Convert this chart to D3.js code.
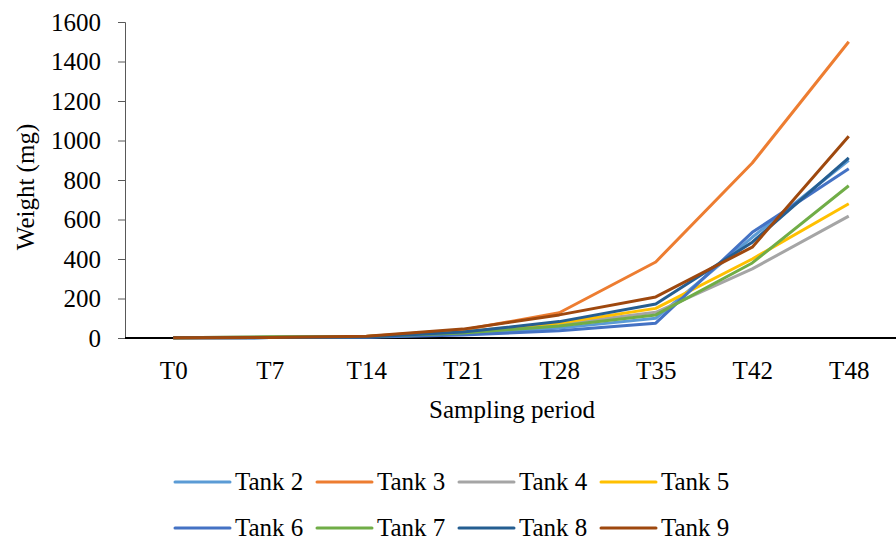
<!DOCTYPE html>
<html>
<head>
<meta charset="utf-8">
<script src="https://cdn.jsdelivr.net/npm/d3@7"></script>
<style>
 body { margin: 0; background: #fff; }
 svg text { font-family: "Liberation Serif", "Times New Roman", serif; fill: #000; }
</style>
</head>
<body>
<div id="chart"></div>
<script>
const periods = ["T0", "T7", "T14", "T21", "T28", "T35", "T42", "T48"];
const tanks = ["Tank 2", "Tank 3", "Tank 4", "Tank 5", "Tank 6", "Tank 7", "Tank 8", "Tank 9"];
const colors = ["#5B9BD5", "#ED7D31", "#A5A5A5", "#FFC000", "#4472C4", "#70AD47", "#255E91", "#9E480E"];
const yTicks = [0, 200, 400, 600, 800, 1000, 1200, 1400, 1600];

const tank2 = [1, 2, 5, 20, 50, 100, 510, 900];
const tank3 = [1, 3, 8, 40, 128, 385, 886, 1500];
const tank4 = [1, 6, 8, 30, 70, 130, 350, 617];
const tank5 = [1, 3, 7, 30, 76, 150, 400, 680];
const tank6 = [1, 2, 4, 15, 37, 75, 535, 857];
const tank7 = [1, 6, 8, 25, 61, 117, 380, 771];
const tank8 = [1, 2, 5, 30, 83, 172, 485, 912];
const tank9 = [1, 3, 9, 45, 117, 208, 460, 1021];
const values = [tank2, tank3, tank4, tank5, tank6, tank7, tank8, tank9];

(function () {
 const width = 896;
 const height = 540;
 const margin = { top: 22, left: 125, right: -1, bottom: 202 };
 const font = '"Liberation Serif", "Times New Roman", serif';

 const svg = d3
  .select("#chart")
  .append("svg")
  .attr("width", width)
  .attr("height", height)
  .attr("font-family", font);

 const xScale = d3
  .scalePoint()
  .domain(periods)
  .range([margin.left, width - margin.right])
  .padding(0.5);
 const yScale = d3
  .scaleLinear()
  .domain([0, 1600])
  .range([height - margin.bottom, margin.top]);

 // y axis
 const yAxis = svg
  .append("g")
  .attr("transform", `translate(${margin.left},0)`)
  .call(
   d3
    .axisLeft(yScale)
    .tickValues(yTicks)
    .tickFormat(d3.format("d"))
    .tickSize(7)
    .tickPadding(17)
  )
  .attr("font-family", font);
 yAxis.select(".domain").attr("stroke", "#595959");
 yAxis.selectAll(".tick line").attr("stroke", "#595959");
 yAxis.selectAll(".tick text").style("font-size", "25px");

 // x axis, no ticks
 const xAxis = svg
  .append("g")
  .attr("transform", `translate(0,${yScale(0)})`)
  .call(d3.axisBottom(xScale).tickSize(0).tickPadding(23))
  .attr("font-family", font);
 xAxis.select(".domain").remove();
 xAxis
  .append("line")
  .attr("x1", margin.left)
  .attr("x2", width)
  .attr("stroke", "#000")
  .attr("stroke-width", 2);
 xAxis.selectAll(".tick text").style("font-size", "25px");

 // axis titles
 svg
  .append("text")
  .attr("transform", `translate(28,${(margin.top + yScale(0)) / 2 + 7}) rotate(-90)`)
  .attr("text-anchor", "middle")
  .attr("dominant-baseline", "middle")
  .style("font-size", "25px")
  .text("Weight (mg)");

 svg
  .append("text")
  .attr("x", 512)
  .attr("y", 418)
  .attr("text-anchor", "middle")
  .style("font-size", "25px")
  .text("Sampling period");

 // lines
 const line = d3
  .line()
  .x((d, i) => xScale(periods[i]))
  .y((d) => yScale(d));

 svg
  .selectAll(".series")
  .data(values)
  .enter()
  .append("path")
  .attr("class", "series")
  .attr("d", line)
  .attr("fill", "none")
  .attr("stroke", (d, i) => colors[i])
  .attr("stroke-width", 3)
  .attr("stroke-linejoin", "round");

 // legend
 const legend = svg
  .selectAll(".legend")
  .data(tanks)
  .enter()
  .append("g")
  .attr("class", "legend")
  .attr("transform", (d, i) => `translate(${175 + (i % 4) * 142},${482 + Math.floor(i / 4) * 46})`);

 legend
  .append("line")
  .attr("x1", 0)
  .attr("x2", 55)
  .attr("stroke", (d, i) => colors[i])
  .attr("stroke-width", 3)
  .attr("stroke-linecap", "round");

 legend
  .append("text")
  .attr("x", 60)
  .attr("y", 8)
  .style("font-size", "25px")
  .text((d) => d);
})();
</script>
</body>
</html>
